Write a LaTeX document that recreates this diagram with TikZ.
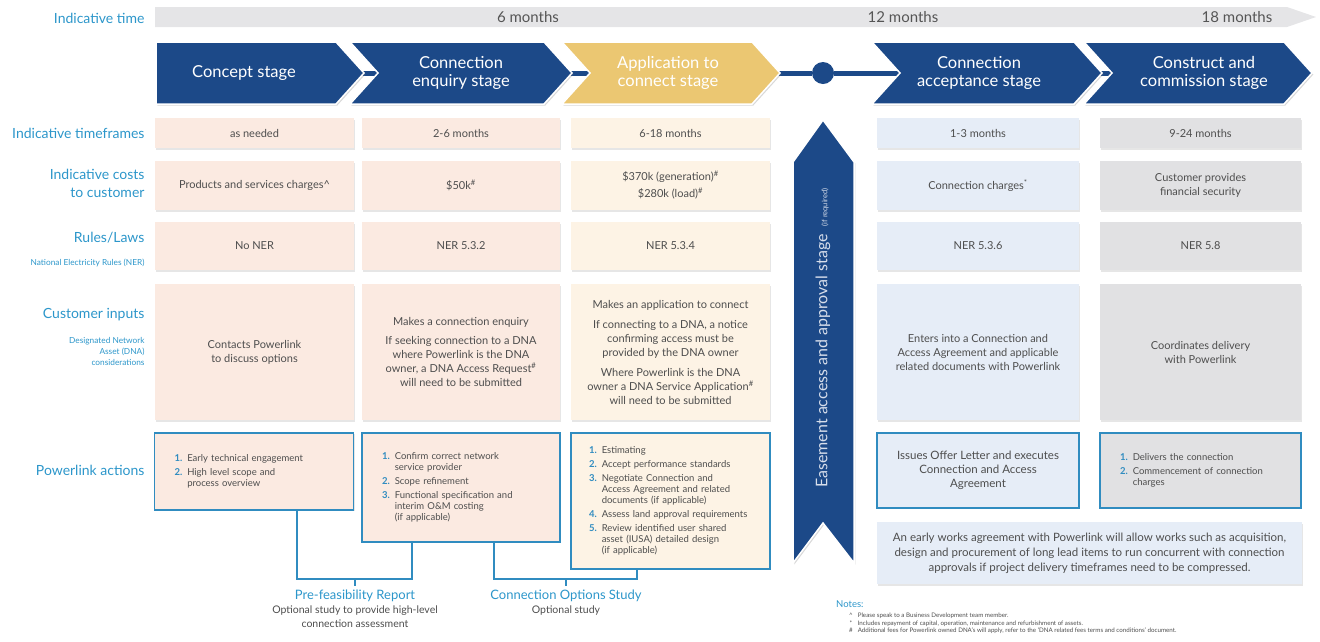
\documentclass[tikz,border=0pt]{standalone}
\usepackage{fontspec}
\setmainfont{Lato}
\usetikzlibrary{shadows}

\definecolor{navy}{RGB}{28,73,136}
\definecolor{gold}{RGB}{235,199,114}
\definecolor{pltext}{RGB}{44,150,202}
\definecolor{actline}{RGB}{48,140,192}
\definecolor{bodytext}{RGB}{78,78,78}
\definecolor{tltext}{RGB}{85,85,85}
\definecolor{tlgray}{RGB}{229,229,231}
\definecolor{pinkc}{RGB}{251,234,225}
\definecolor{creamc}{RGB}{253,243,229}
\definecolor{bluec}{RGB}{230,237,247}
\definecolor{grayc}{RGB}{225,225,227}
\definecolor{easetxt}{RGB}{215,222,235}

\newcommand{\fsz}[2]{\fontsize{#1}{#2}\selectfont}
\newcommand{\actnum}[1]{{\color{actline}\bfseries #1.}}

\begin{document}
\begin{tikzpicture}[x=1pt,y=-1pt,
    lbl/.style={anchor=east,text=pltext,align=right,font=\fsz{14}{18}},
    sublbl/.style={anchor=east,text=pltext,align=right,font=\fsz{8.3}{11}},
    shade box/.style={drop shadow={shadow xshift=1.3pt,shadow yshift=-1.5pt,opacity=.2}},
    cell/.style={shade box,text=bodytext,align=center,inner sep=0pt,font=\fsz{11}{14}},
    col1/.style={cell,fill=pinkc,minimum width=199pt},
    col2/.style={cell,fill=pinkc,minimum width=198pt},
    col3/.style={cell,fill=creamc,minimum width=199pt},
    col4/.style={cell,fill=bluec,minimum width=202pt},
    col5/.style={cell,fill=grayc,minimum width=201pt},
    act/.style={shade box,draw=actline,line width=1.6pt,anchor=north,text=bodytext,
      inner ysep=0pt,inner xsep=20pt,align=left,font=\fsz{9.5}{11}},
    chev/.style={draw=white,line width=1.5pt,drop shadow={shadow xshift=1.3pt,shadow yshift=-1.5pt,opacity=.3}},
    stage/.style={text=white,align=center,font=\fsz{16.5}{18.5}},
    bar/.style={draw=navy,line width=5pt},
    link/.style={draw=actline,line width=1.5pt},
  ]
  \useasboundingbox (0,0) rectangle (1320,641);

  % time line
  \fill[tlgray] (155,7) -- (1287,7) -- (1316,17) -- (1287,27) -- (155,27) -- cycle;
  \node[lbl] (ltime) at (148,18) {Indicative time};
  \node[font=\fsz{15}{17},text=tltext] (m6) at (528,17) {6 months};
  \node[font=\fsz{15}{17},text=tltext] (m12) at (903,17) {12 months};
  \node[font=\fsz{15}{17},text=tltext] (m18) at (1237,17) {18 months};

  % stages
  \coordinate (tip1) at (364,73);
  \coordinate (notch2) at (378,73);
  \coordinate (tip2) at (572,73);
  \coordinate (notch3) at (590,73);
  \coordinate (tip3) at (780,73);
  \coordinate (notch4) at (900,73);
  \coordinate (tip4) at (1102,73);
  \coordinate (notch5) at (1112,73);
  \draw[bar,shorten <=-6pt,shorten >=-6pt] (tip1) -- (notch2);
  \draw[bar,shorten <=-6pt,shorten >=-6pt] (tip2) -- (notch3);
  \draw[bar,shorten <=-6pt,shorten >=-6pt] (tip4) -- (notch5);
  \node[circle,fill=navy,minimum size=22pt,inner sep=0pt] (hub) at (823,73) {};
  \draw[bar,shorten <=-6pt] (tip3) -- (hub);
  \draw[bar,shorten >=-6pt] (hub) -- (notch4);
  \foreach \L/\R/\n/\c in {156/336/0/navy,350/544/1/navy,562/752/1/gold,872/1074/1/navy,1084/1284/1/navy}
    \path[chev,fill=\c] (\L,42) -- (\R,42) -- (\R+28,73) -- (\R,104) -- (\L,104) -- (\L+28*\n,73) -- cycle;
  \node[stage] (st1) at (244,73) {Concept stage};
  \node[stage] (st2) at (461,73) {Connection\\enquiry stage};
  \node[stage] (st3) at (668,73) {Application to\\connect stage};
  \node[stage] (st4) at (979,73) {Connection\\acceptance stage};
  \node[stage] (st5) at (1204,73) {Construct and\\commission stage};

  % easement arrow
  \path[chev,fill=navy] (793,162) -- (823,120) -- (854,162) -- (854,563) -- (823,523) -- (793,563) -- cycle;
  \node[rotate=90,text=easetxt,font=\fsz{16}{18}] (eas) at (823,338)
    {Easement access and approval stage\ \ {\fsz{7.5}{8}(if required)}};

  % row labels
  \node[lbl] (ltf) at (148,133) {Indicative timeframes};
  \node[lbl] (lcost) at (148,183) {Indicative costs\\to customer};
  \node[lbl] (lrule) at (148,238) {Rules/Laws};
  \node[sublbl] (lner) at (148,263) {National Electricity Rules (NER)};
  \node[lbl] (lcust) at (148,315) {Customer inputs};
  \node[sublbl] (ldna) at (148,351) {Designated Network\\Asset (DNA)\\considerations};
  \node[lbl] (lact) at (148,470) {Powerlink actions};

  % timeframes
  \node[col1,minimum height=30pt] (tf1) at (254.5,133) {as needed};
  \node[col2,minimum height=30pt] (tf2) at (461,133) {2-6 months};
  \node[col3,minimum height=30pt] (tf3) at (670.5,133) {6-18 months};
  \node[col4,minimum height=30pt] (tf4) at (978,133) {1-3 months};
  \node[col5,minimum height=30pt] (tf5) at (1200.5,133) {9-24 months};

  % costs
  \node[col1,minimum height=49pt] (cost1) at (254.5,185.5) {Products and services charges\textasciicircum};
  \node[col2,minimum height=49pt] (cost2) at (461,185.5) {\$50k\textsuperscript{\#}};
  \node[col3,minimum height=49pt] (cost3) at (670.5,185.5) {\$370k (generation)\textsuperscript{\#}\\[3pt]\$280k (load)\textsuperscript{\#}};
  \node[col4,minimum height=49pt] (cost4) at (978,185.5) {Connection charges\textsuperscript{*}};
  \node[col5,minimum height=49pt] (cost5) at (1200.5,185.5) {Customer provides\\financial security};

  % rules
  \node[col1,minimum height=48pt] (rule1) at (254.5,246) {No NER};
  \node[col2,minimum height=48pt] (rule2) at (461,246) {NER 5.3.2};
  \node[col3,minimum height=48pt] (rule3) at (670.5,246) {NER 5.3.4};
  \node[col4,minimum height=48pt] (rule4) at (978,246) {NER 5.3.6};
  \node[col5,minimum height=48pt] (rule5) at (1200.5,246) {NER 5.8};

  % customer inputs
  \node[col1,minimum height=136pt] (in1) at (254.5,352) {Contacts Powerlink\\to discuss options};
  \node[col2,minimum height=136pt] (in2) at (461,352) {Makes a connection enquiry\\[5pt]
    If seeking connection to a DNA\\where Powerlink is the DNA\\owner, a DNA Access Request\textsuperscript{\#}\\will need to be submitted};
  \node[col3,minimum height=136pt] (in3) at (670.5,352) {Makes an application to connect\\[6pt]
    If connecting to a DNA, a notice\\confirming access must be\\provided by the DNA owner\\[6pt]
    Where Powerlink is the DNA\\owner a DNA Service Application\textsuperscript{\#}\\will need to be submitted};
  \node[col4,minimum height=136pt] (in4) at (978,352) {Enters into a Connection and\\Access Agreement and applicable\\related documents with Powerlink};
  \node[col5,minimum height=136pt] (in5) at (1200.5,352) {Coordinates delivery\\with Powerlink};

  % Powerlink actions
  \node[act,fill=pinkc,text width=159pt,minimum height=77pt] (act1) at (254,432) {\noindent
    \begin{tabular}{@{}l@{\hspace{5pt}}l@{}}
      \actnum{1} & Early technical engagement\\[3pt]
      \actnum{2} & High level scope and\\
                 & process overview
    \end{tabular}};
  \node[act,fill=pinkc,text width=158pt,minimum height=109pt] (act2) at (461,432) {\noindent
    \begin{tabular}{@{}l@{\hspace{5pt}}l@{}}
      \actnum{1} & Confirm correct network\\
                 & service provider\\[3pt]
      \actnum{2} & Scope refinement\\[3pt]
      \actnum{3} & Functional specification and\\
                 & interim O\&M costing\\
                 & (if applicable)
    \end{tabular}};
  \node[act,fill=creamc,text width=163pt,inner xsep=18pt,minimum height=136pt] (act3) at (670.5,432) {\noindent
    \begin{tabular}{@{}l@{\hspace{5pt}}l@{}}
      \actnum{1} & Estimating\\[3pt]
      \actnum{2} & Accept performance standards\\[3pt]
      \actnum{3} & Negotiate Connection and\\
                 & Access Agreement and related\\
                 & documents (if applicable)\\[3pt]
      \actnum{4} & Assess land approval requirements\\[3pt]
      \actnum{5} & Review identified user shared\\
                 & asset (IUSA) detailed design\\
                 & (if applicable)
    \end{tabular}};
  \node[act,fill=bluec,inner xsep=0pt,minimum width=202pt,minimum height=75pt,align=center,font=\fsz{11.5}{14}] (act4) at (978,432)
    {Issues Offer Letter and executes\\Connection and Access\\Agreement};
  \node[act,fill=grayc,text width=161pt,minimum height=75pt] (act5) at (1200.5,432) {\noindent
    \begin{tabular}{@{}l@{\hspace{5pt}}l@{}}
      \actnum{1} & Delivers the connection\\[3pt]
      \actnum{2} & Commencement of connection\\
                 & charges
    \end{tabular}};

  % early works
  \node[cell,fill=bluec,minimum width=425pt,minimum height=62pt,font=\fsz{11.5}{15}] (ewa) at (1089.5,553)
    {An early works agreement with Powerlink will allow works such as acquisition,\\
     design and procurement of long lead items to run concurrent with connection\\
     approvals if project delivery timeframes need to be compressed.};

  % optional studies
  \node[anchor=north,text=pltext,font=\fsz{13}{15}] (pfr) at (355,586) {Pre-feasibility Report};
  \node[anchor=north,text=bodytext,align=center,font=\fsz{10.5}{13.5},inner sep=1pt] (pfrd) at (pfr.south)
    {Optional study to provide high-level\\connection assessment};
  \node[anchor=north,text=pltext,font=\fsz{13}{15}] (cos) at (566,586) {Connection Options Study};
  \node[anchor=north,text=bodytext,font=\fsz{10.5}{13.5},inner sep=1pt] (cosd) at (cos.south) {Optional study};
  \coordinate (br1) at (355,579);
  \coordinate (br2) at (566,579);
  \draw[link] ([xshift=43pt]act1.south) |- (br1) -| ([xshift=-49pt]act2.south);
  \draw[link] (br1) -- (pfr.north);
  \draw[link] ([xshift=33pt]act2.south) |- (br2) -| ([xshift=-33.5pt]act3.south);
  \draw[link] (br2) -- (cos.north);

  % notes
  \node[anchor=west,text=pltext,font=\fsz{9.5}{11},inner sep=0pt] (notes) at (836,604) {Notes:};
  \node[anchor=north west,text=bodytext,font=\fsz{6.2}{7.6},inner sep=0pt] (notelist) at (849,612)
    {\begin{tabular}{@{}c@{\hspace{5pt}}l@{}}
      \textasciicircum & Please speak to a Business Development team member.\\
      {*} & Includes repayment of capital, operation, maintenance and refurbishment of assets.\\
      \# & Additional fees for Powerlink owned DNA's will apply, refer to the `DNA related fees terms and conditions' document.
    \end{tabular}};
\end{tikzpicture}
\end{document}
